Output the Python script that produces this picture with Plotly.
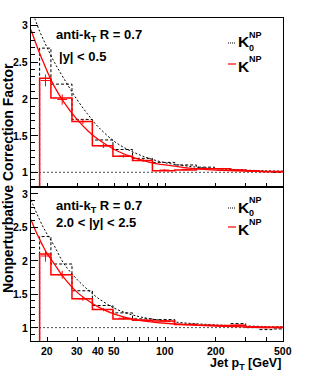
import math
import plotly.graph_objects as go

# ---------------- data ----------------
bin_edges = [18, 21, 28, 37, 49, 64, 84, 114, 153, 196, 245, 300, 362, 430, 507]

top_k0 = [2.69, 2.20, 1.72, 1.44, 1.31, 1.19, 1.135, 1.10, 1.07, 1.05, 1.03, 1.02, 1.01, 1.00]
top_k = [2.28, 2.01, 1.69, 1.36, 1.22, 1.16, 1.02, 1.03, 1.05, 1.05, 1.03, 1.02, 1.01, 1.01]
top_k_pts = [2.25, 1.99, 1.69, 1.36, 1.22, 1.16, 1.03, 1.04, 1.05, 1.05, 1.03, 1.02, 1.01, 1.01]
top_k_err = [0.08, 0.07, 0.035, 0.03, 0.02, 0.02, 0.012, 0.01, 0.01, 0.01, 0.01, 0.01, 0.01, 0.01]

bot_k0 = [2.36, 1.95, 1.55, 1.33, 1.22, 1.13, 1.12, 1.05, 1.035, 1.03, 1.06, 1.00, 0.97, 0.98]
bot_k = [2.10, 1.79, 1.43, 1.27, 1.13, 1.11, 1.10, 1.045, 1.035, 1.03, 1.035, 1.01, 1.00, 1.00]
bot_k_pts = [2.07, 1.79, 1.43, 1.27, 1.14, 1.11, 1.10, 1.045, 1.035, 1.03, 1.035, 1.01, 1.00, 1.00]
bot_k_err = [0.085, 0.06, 0.03, 0.025, 0.02, 0.015, 0.012, 0.01, 0.01, 0.01, 0.01, 0.01, 0.015, 0.015]

curve_pt = [16, 17, 18, 19, 20, 22, 25, 30, 35, 40, 50, 60, 70, 80, 100, 130, 170, 220, 300, 400, 500]
top_k0_fit = [3.25, 3.07, 2.92, 2.80, 2.69, 2.50, 2.28, 1.99, 1.78, 1.62, 1.42, 1.31, 1.24, 1.19,
              1.13, 1.09, 1.06, 1.045, 1.03, 1.02, 1.015]
top_k_fit = [2.94, 2.77, 2.62, 2.49, 2.37, 2.17, 1.96, 1.72, 1.56, 1.45, 1.31, 1.23, 1.175, 1.14,
             1.10, 1.065, 1.04, 1.027, 1.017, 1.01, 1.007]
bot_k0_fit = [2.91, 2.75, 2.61, 2.49, 2.39, 2.22, 1.96, 1.72, 1.56, 1.44, 1.29, 1.21, 1.165, 1.135,
              1.10, 1.07, 1.05, 1.035, 1.025, 1.015, 1.01]
bot_k_fit = [2.61, 2.45, 2.32, 2.20, 2.10, 1.95, 1.75, 1.53, 1.40, 1.31, 1.20, 1.145, 1.11, 1.09,
             1.065, 1.045, 1.03, 1.02, 1.012, 1.007, 1.005]

x_ticks = [20, 30, 40, 50, 100, 200, 500]
x_minor = [60, 70, 80, 90, 300, 400]
y_ticks = [1, 1.5, 2, 2.5, 3]
y_tick_text = ["1", "1.5", "2", "2.5", "3"]

panel_labels = [("anti-k<sub>T</sub> R = 0.7", "|y| < 0.5"),
                ("anti-k<sub>T</sub> R = 0.7", "2.0 < |y| < 2.5")]

# ---------------- layout geometry ----------------
W, H = 315, 375
L, R, T, B = 31, 32, 18, 34
PW = W - L - R
PH = H - T - B
split = (341 - 187) / PH

def px(xp):
    return (xp - L) / PW

def py(yp):
    return (H - B - yp) / PH

FONT = "Liberation Sans, Arial, sans-serif"
RED = "#ff0000"

fig = go.Figure()

def hist_xy(edges, vals):
    xs = [edges[0]] + list(edges[:-1]) + [edges[-1], edges[-1]]
    ys = [0] + list(vals) + [vals[-1], 0]
    return xs, ys

centers = [(a + b) / 2 for a, b in zip(bin_edges[:-1], bin_edges[1:])]

for (k0, k, kp, ke, k0f, kf, ya, xa) in [
        (top_k0, top_k, top_k_pts, top_k_err, top_k0_fit, top_k_fit, "y", "x"),
        (bot_k0, bot_k, bot_k_pts, bot_k_err, bot_k0_fit, bot_k_fit, "y2", "x2")]:
    fig.add_trace(go.Scatter(x=[16, 500], y=[1, 1], mode="lines", xaxis=xa, yaxis=ya,
                             line=dict(color="black", width=0.7, dash="2px,2px"),
                             showlegend=False, hoverinfo="skip"))
    hx, hy = hist_xy(bin_edges, k0)
    fig.add_trace(go.Scatter(x=hx, y=hy, mode="lines", line_shape="hv", xaxis=xa, yaxis=ya,
                             line=dict(color="black", width=1, dash="3px,2px"),
                             showlegend=False))
    fig.add_trace(go.Scatter(x=curve_pt, y=k0f, mode="lines", line_shape="spline", xaxis=xa, yaxis=ya,
                             line=dict(color="black", width=1, dash="2px,2px"),
                             showlegend=False))
    fig.add_trace(go.Scatter(x=curve_pt, y=kf, mode="lines", line_shape="spline", xaxis=xa, yaxis=ya,
                             line=dict(color=RED, width=1.3),
                             showlegend=False))
    hx, hy = hist_xy(bin_edges, k)
    fig.add_trace(go.Scatter(x=hx, y=hy, mode="lines", line_shape="hv", xaxis=xa, yaxis=ya,
                             line=dict(color=RED, width=1.5),
                             showlegend=False))
    fig.add_trace(go.Scatter(x=centers, y=kp, mode="markers", xaxis=xa, yaxis=ya,
                             marker=dict(symbol="line-ew", size=7, color=RED,
                                         line=dict(color=RED, width=1)),
                             error_y=dict(type="data", array=ke, color=RED, width=0, thickness=1),
                             showlegend=False))

xcommon = dict(type="log", range=[math.log10(16), math.log10(500)], showgrid=False, zeroline=False,
               showline=True, linecolor="black", linewidth=1, mirror=True,
               ticks="inside", ticklen=4, tickcolor="black", showticklabels=False,
               tickmode="array", tickvals=x_ticks,
               minor=dict(tickmode="array", tickvals=x_minor, ticks="inside", ticklen=4,
                          tickcolor="black"))
ycommon = dict(range=[0.8, 3.1], showgrid=False, zeroline=False,
               showline=True, linecolor="black", linewidth=1, mirror=True,
               ticks="inside", ticklen=7, tickcolor="black", tickmode="array", tickvals=y_ticks,
               showticklabels=False,
               minor=dict(dtick=0.1, ticks="inside", ticklen=4, tickcolor="black"))

fig.update_layout(
    width=W, height=H, margin=dict(l=L, r=R, t=T, b=B),
    paper_bgcolor="white", plot_bgcolor="white", showlegend=False,
    xaxis=dict(xcommon, anchor="y"),
    yaxis=dict(ycommon, domain=[split, 1], anchor="x"),
    xaxis2=dict(xcommon, anchor="y2", matches="x"),
    yaxis2=dict(ycommon, domain=[0, split], anchor="x2"),
)

ann = []
def text(xp, yp, s, size=13, xanchor="left", angle=0, yanchor="middle"):
    ann.append(dict(x=px(xp), y=py(yp), xref="paper", yref="paper", text=s, showarrow=False,
                    xanchor=xanchor, yanchor=yanchor, textangle=angle,
                    font=dict(family=FONT, size=size, color="black", weight="bold")))

# tick labels
for yref in ["y", "y2"]:
    for v, t in zip(y_ticks, y_tick_text):
        ann.append(dict(x=px(30), y=v, xref="paper", yref=yref, text=t, showarrow=False,
                        xanchor="right", yanchor="middle",
                        font=dict(family=FONT, size=10.5, color="black", weight="bold")))
for v in x_ticks:
    ann.append(dict(x=math.log10(v), y=py(351), xref="x2", yref="paper", text=str(v), showarrow=False,
                    xanchor="center", yanchor="middle",
                    font=dict(family=FONT, size=10.5, color="black", weight="bold")))

# panel labels
text(54, 36, panel_labels[0][0])
text(57, 57, panel_labels[0][1])
text(54, 206, panel_labels[1][0])
text(54, 222, panel_labels[1][1])

# axis titles
text(8, 178, "Nonperturbative Correction Factor", size=14, xanchor="center", angle=-90)
text(283, 364, "Jet p<sub>T</sub> [GeV]", size=12.5, xanchor="right")

# legends
shapes = []
for (y0k0, y0k) in [(42, 66), (207, 229)]:
    text(236, y0k0, "K", size=15.5)
    text(247, y0k0 - 7, "NP", size=9)
    text(247, y0k0 + 6, "0", size=9)
    text(236, y0k, "K", size=15.5)
    text(247, y0k - 7, "NP", size=9)
    shapes.append(dict(type="line", xref="paper", yref="paper", x0=px(228), x1=px(236),
                       y0=py(y0k0 + 1), y1=py(y0k0 + 1),
                       line=dict(color="black", width=1, dash="1px,1px")))
    shapes.append(dict(type="line", xref="paper", yref="paper", x0=px(228), x1=px(236),
                       y0=py(y0k - 2), y1=py(y0k - 2),
                       line=dict(color=RED, width=1.2)))

fig.update_layout(annotations=ann, shapes=shapes)
fig.write_html("out.html", config={"displayModeBar": False},
               post_script="document.body.style.margin='0';")
